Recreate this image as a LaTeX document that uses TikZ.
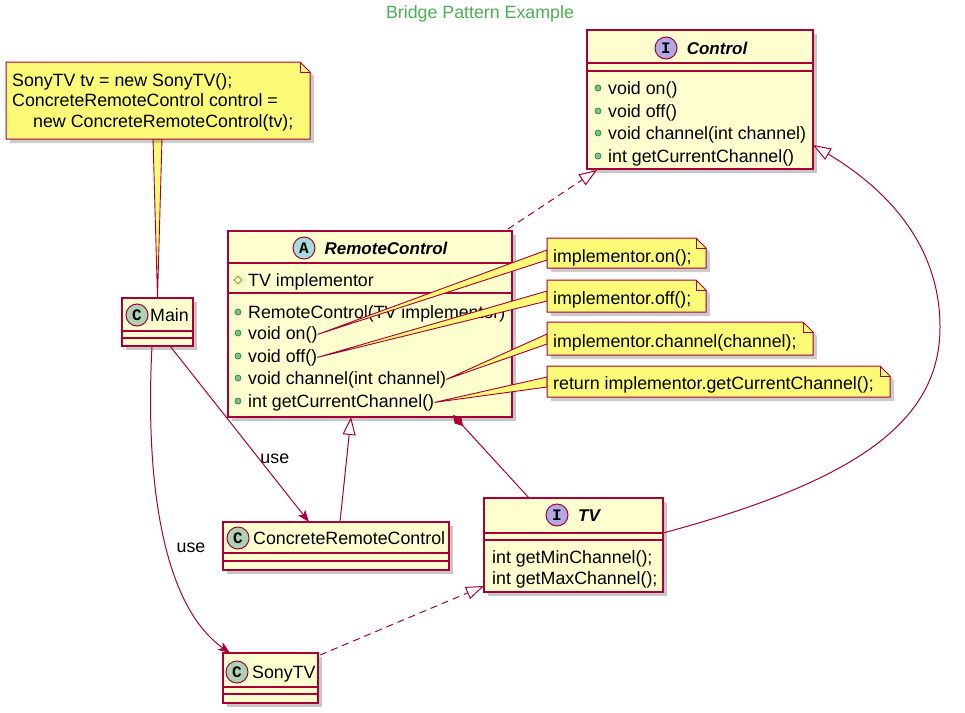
\documentclass[tikz,border=0pt]{standalone}
\usepackage{fontspec}
\setmainfont{Liberation Sans}
\setmonofont{Liberation Mono}
\usetikzlibrary{arrows.meta,calc,shadows,fit}
\definecolor{bord}{HTML}{A80036}
\definecolor{clsbg}{HTML}{FEFECE}
\definecolor{notebg}{HTML}{FBFB77}
\definecolor{cfill}{HTML}{ADD1B2}
\definecolor{afill}{HTML}{A9DCDF}
\definecolor{ifill}{HTML}{B4A7E5}
\definecolor{pubfill}{HTML}{84BE84}
\definecolor{pubdraw}{HTML}{038048}
\definecolor{protdraw}{HTML}{B38D22}
\definecolor{titlegreen}{HTML}{4CAF50}
\newcommand\uf{\fontsize{17.8}{21}\selectfont}
% name, x1, y1, x2, y2
\newcommand\umlnote[5]{%
  \fill[black,opacity=0.2] ({#2+4},{#3+4}) -- ({#4-6},{#3+4}) -- ({#4+4},{#3+14}) -- ({#4+4},{#5+4}) -- ({#2+4},{#5+4}) -- cycle;
  \filldraw[fill=notebg,draw=bord,line width=1pt] (#2,#3) -- ({#4-10},#3) -- (#4,{#3+10}) -- (#4,#5) -- (#2,#5) -- cycle;
  \draw[draw=bord,line width=1pt] ({#4-10},#3) -- ({#4-10},{#3+10}) -- (#4,{#3+10});
  \node[inner sep=0pt,outer sep=0pt,fit={(#2,#3) (#4,#5)}] (#1) {};
}
% name, bullet x, baseline y, text
\newcommand\pubm[4]{%
  \filldraw[fill=pubfill,draw=pubdraw,line width=0.6pt] (#2,{#3-6}) circle (3pt);
  \node[txt] (#1) at ({#2+10},#3) {#4};
}
\begin{document}
\begin{tikzpicture}[x=1pt,y=-1pt,
  cls/.style={draw=bord,fill=clsbg,line width=1.3pt,rectangle,inner sep=0pt,outer sep=0pt,anchor=north west,
    drop shadow={shadow xshift=4pt,shadow yshift=-4pt,opacity=0.22,fill=black}},
  divl/.style={draw=bord,line width=1.1pt},
  txt/.style={anchor=base west,inner sep=0pt,font=\uf},
  hdr/.style={anchor=base,inner sep=0pt,font=\fontsize{17}{20}\selectfont\bfseries\itshape},
  circ/.style={circle,draw=bord,line width=1pt,minimum size=22pt,inner sep=0pt,font=\fontsize{16}{16}\selectfont\ttfamily\bfseries},
  edge/.style={draw=bord,line width=1pt},
  dedge/.style={draw=bord,line width=1pt,dash pattern=on 7pt off 5pt},
  wedge/.style={fill=notebg,draw=bord,line width=0.9pt,line join=miter},
  lbl/.style={inner sep=1pt,font=\uf},
  ttl/.style={anchor=base,inner sep=0pt,font=\uf,text=titlegreen},
  htri/.style={-{Triangle[length=18pt,width=13pt,fill=white]}}
]
\useasboundingbox (0,0) rectangle (965,712);

\node[ttl] (title) at (480,18) {Bridge Pattern Example};

% ---------- Control ----------
\node[cls,minimum width=226pt,minimum height=139pt] (control) at (587,30) {};
\draw[divl] (587,63) -- (813,63) (587,71) -- (813,71);
\node[circ,fill=ifill] (controlI) at (666,48) {I};
\node[hdr] (controlN) at (717,54) {Control};
\pubm{cOn}{598}{94}{void on()}
\pubm{cOff}{598}{117}{void off()}
\pubm{cCh}{598}{139}{void channel(int channel)}
\pubm{cGet}{598}{162}{int getCurrentChannel()}

% ---------- RemoteControl ----------
\node[cls,minimum width=284pt,minimum height=186pt] (rc) at (228,231) {};
\draw[divl] (228,263) -- (512,263) (228,293) -- (512,293);
\node[circ,fill=afill] (rcA) at (304,248) {A};
\node[hdr] (rcN) at (386,254) {RemoteControl};
\draw[draw=protdraw,line width=0.8pt] (238,276) -- (242,280) -- (238,284) -- (234,280) -- cycle;
\node[txt] (rcImpl) at (248,286) {TV implementor};
\pubm{rcCtor}{238}{318}{RemoteControl(TV implementor)}
\pubm{rcOn}{238}{339}{void on()}
\pubm{rcOff}{238}{362}{void off()}
\pubm{rcCh}{238}{384}{void channel(int channel)}
\pubm{rcGet}{238}{407}{int getCurrentChannel()}

% ---------- TV ----------
\node[cls,minimum width=179pt,minimum height=94pt] (tv) at (484,498) {};
\draw[divl] (484,533) -- (663,533) (484,540) -- (663,540);
\node[circ,fill=ifill] (tvI) at (557,515) {I};
\node[hdr] (tvN) at (589,521) {TV};
\node[txt] (tvMin) at (492,563) {int getMinChannel();};
\node[txt] (tvMax) at (492,584) {int getMaxChannel();};

% ---------- ConcreteRemoteControl ----------
\node[cls,minimum width=226pt,minimum height=48pt] (crc) at (223,522) {};
\draw[divl] (223,553) -- (449,553) (223,561) -- (449,561);
\node[circ,fill=cfill] (crcC) at (238,538) {C};
\node[txt] (crcN) at (253,544) {ConcreteRemoteControl};

% ---------- SonyTV ----------
\node[cls,minimum width=95pt,minimum height=50pt] (sony) at (223,653) {};
\draw[divl] (223,687) -- (318,687) (223,694) -- (318,694);
\node[circ,fill=cfill] (sonyC) at (237,672) {C};
\node[txt] (sonyN) at (252,678) {SonyTV};

% ---------- Main ----------
\node[cls,minimum width=71pt,minimum height=48pt] (main) at (122,298) {};
\draw[divl] (122,331) -- (193,331) (122,338) -- (193,338);
\node[circ,fill=cfill] (mainC) at (137,315) {C};
\node[txt] (mainN) at (150,321) {Main};

% ---------- connectors ----------
\draw[dedge,htri] ($(rc.north east)+(-4,-2)$) -- ($(control.south west)+(10,1)$);
\draw[edge,htri] ($(tv.north east)+(0,35)$) .. controls (860,480) and (940,420) .. (940,327)
   .. controls (940,240) and (880,185) .. ($(control.south east)+(0,-24)$);
\draw[edge,-{Diamond[length=15pt,width=9pt]}] ($(tv.north west)+(45,0)$) -- ($(rc.south west)+(225,-2)$);
\draw[edge,htri] ($(crc.north west)+(117,0)$) -- ($(rc.south west)+(123,0)$);
\draw[dedge,htri] ($(sony.north east)+(2,2)$) -- ($(tv.south west)+(0,-6)$);
\draw[edge,-{Stealth[length=12pt,width=9pt,inset=3pt]}] ($(main.south west)+(48,0)$) -- node[lbl,pos=0.64,anchor=west] (use1) {use} ($(crc.north west)+(86,0)$);
\draw[edge,-{Stealth[length=12pt,width=9pt,inset=3pt]}] ($(main.south west)+(30,0)$) .. controls (145,480) and (162,605) .. ($(sony.north west)+(7,0)$);
\node[lbl] (use2) at (191,548) {use};

% ---------- notes ----------
\filldraw[wedge] (rcOn.east) -- (547,250) -- (547,260) -- cycle;
\filldraw[wedge] (rcOff.east) -- (547,291) -- (547,301) -- cycle;
\filldraw[wedge] (rcCh.east) -- (547,334) -- (547,344) -- cycle;
\filldraw[wedge] (rcGet.east) -- (547,377) -- (547,387) -- cycle;
\filldraw[wedge] (main.north) -- (162,139) -- (153,139) -- cycle;

\umlnote{noteMain}{6}{62}{310}{139}
\node[txt] (nm1) at (12,86) {SonyTV tv = new SonyTV();};
\node[txt] (nm2) at (12,106) {ConcreteRemoteControl control =};
\node[txt] (nm3) at (33,127) {new ConcreteRemoteControl(tv);};

\umlnote{noteOn}{547}{238}{706}{268}
\node[txt] (tOn) at (553,262) {implementor.on();};
\umlnote{noteOff}{547}{280}{706}{312}
\node[txt] (tOff) at (553,304) {implementor.off();};
\umlnote{noteCh}{547}{322}{813}{355}
\node[txt] (tCh) at (553,347) {implementor.channel(channel);};
\umlnote{noteGet}{547}{366}{890}{397}
\node[txt] (tGet) at (553,389) {return implementor.getCurrentChannel();};
\end{tikzpicture}
\end{document}
